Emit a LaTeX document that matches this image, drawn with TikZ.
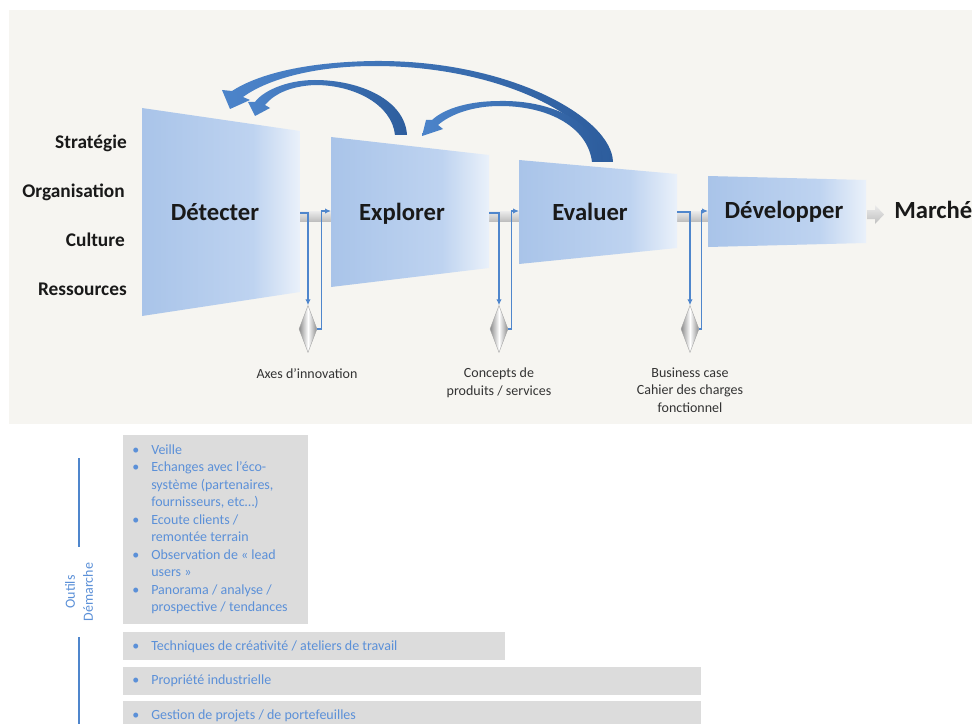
\documentclass[tikz,border=0pt]{standalone}
\usepackage{fontspec}
\setmainfont{Carlito}
\usetikzlibrary{shapes.geometric,arrows.meta}
\definecolor{bgpanel}{HTML}{F6F5F1}
\definecolor{trapA}{HTML}{A9C4E9}
\definecolor{trapB}{HTML}{BED3F0}
\definecolor{trapC}{HTML}{EAF1FA}
\definecolor{arrowA}{HTML}{4C84CA}
\definecolor{arrowB}{HTML}{2D5D9D}
\definecolor{linkblue}{HTML}{4F86CC}
\definecolor{tooltext}{HTML}{5B90D8}
\definecolor{toolbox}{HTML}{DCDCDC}
\definecolor{labelgrey}{HTML}{333333}
\pgfdeclarehorizontalshading{trapshade}{100bp}{color(0bp)=(trapA); color(25bp)=(trapA); color(60bp)=(trapB); color(75bp)=(trapC); color(100bp)=(trapC)}
\tikzset{
  stagelabel/.style={font=\fontsize{18.5}{20}\selectfont\bfseries, text=black!90, anchor=base, inner sep=0},
  sidelabel/.style={font=\fontsize{14.5}{16}\selectfont\bfseries, text=black!90, anchor=base east, inner sep=0},
  outlabel/.style={font=\fontsize{10.5}{12.8}\selectfont, text=labelgrey, align=center, anchor=north, inner sep=0},
  gem/.style={diamond, inner sep=0, minimum width=13.5pt, minimum height=35.25pt, left color=gray!90, right color=gray!90, middle color=white, draw=gray!70, line width=0.3pt},
  link/.style={draw=linkblue, line width=0.9pt, -{Latex[length=4.5pt,width=4pt]}},
  greybar/.style={top color=gray!15, bottom color=gray!50},
  bigarrow/.style={left color=arrowA, right color=arrowB},
  toolfont/.style={font=\fontsize{10.5}{13}\selectfont, text=tooltext, inner sep=0, anchor=base west},
  toolline/.style={draw=linkblue, line width=0.8pt}
}
\begin{document}
\begin{tikzpicture}[x=0.75pt,y=-0.75pt]
\useasboundingbox (0,0) rectangle (972,724);
\fill[white] (0,0) rectangle (972,724);
\fill[bgpanel] (9,10) rectangle (972,424);

% grey bars between stages
\shade[greybar] (300,211) rectangle (331,221);
\shade[greybar] (489,211) rectangle (519,221);
\shade[greybar] (677,211) rectangle (708,221);
\shade[greybar] (867,210) -- (875,210) -- (875,205) -- (884,214.5) -- (875,224) -- (875,219) -- (867,219) -- cycle;

% stage shapes
\shade[shading=trapshade] (142,108) -- (300,131) -- (300,292) -- (142,316) -- cycle;
\shade[shading=trapshade] (331,137) -- (489,155) -- (489,268) -- (331,287) -- cycle;
\shade[shading=trapshade] (519,160) -- (677,174) -- (677,248) -- (519,264) -- cycle;
\shade[shading=trapshade] (708,176) -- (866,180) -- (866,243) -- (708,247) -- cycle;

% stage names
\node[stagelabel] (det) at (215,220) {Détecter};
\node[stagelabel] (exp) at (402,220) {Explorer};
\node[stagelabel] (eva) at (590,220) {Evaluer};
\node[stagelabel] (dev) at (784,219) {Développer};
\node[stagelabel, anchor=base west] (mar) at (894,219) {Marché};

% side labels
\node[sidelabel] (s1) at (127,149) {Stratégie};
\node[sidelabel] (s2) at (125,197) {Organisation};
\node[sidelabel] (s3) at (125,246) {Culture};
\node[sidelabel] (s4) at (127,295) {Ressources};

% feedback arrows
\shade[bigarrow] (613,162) .. controls (612,118) and (510,60) .. (375,61)
  .. controls (300,62) and (255,76) .. (232,91) -- (222,90) -- (230,109) -- (250,100) -- (243,97)
  .. controls (262,83) and (305,66) .. (375,66)
  .. controls (500,66) and (598,118) .. (602,162) -- cycle;
\shade[bigarrow] (407,135) .. controls (405,100) and (360,80) .. (315,80)
  .. controls (285,80) and (262,92) .. (255,102) -- (248,102) -- (255,116) -- (270,108) -- (265,105)
  .. controls (275,93) and (292,86) .. (315,85)
  .. controls (355,85) and (392,105) .. (395,135) -- cycle;
\shade[bigarrow] (603,162) .. controls (600,125) and (555,100) .. (500,101)
  .. controls (470,101) and (445,108) .. (432,120) -- (426,120) -- (422,136) -- (443,129) -- (438,125)
  .. controls (452,113) and (475,106) .. (500,106)
  .. controls (550,106) and (588,128) .. (592,162) -- cycle;

% deliverables
\coordinate (detR) at (300,213);
\coordinate (expL) at (331,211);
\coordinate (expR) at (489,213);
\coordinate (evaL) at (519,211);
\coordinate (evaR) at (677,212);
\coordinate (devL) at (708,211);
\node[gem] (g1) at (308,329) {};
\node[gem] (g2) at (499,329) {};
\node[gem] (g3) at (690,329) {};
\draw[link] (detR) -| (g1.north);
\draw[link] (g1.east) -- ++(4,0) |- (expL);
\draw[link] (expR) -| (g2.north);
\draw[link] (g2.east) -- ++(3,0) |- (evaL);
\draw[link] (evaR) -| (g3.north);
\draw[link] (g3.east) -- ++(2,0) |- (devL);

\node[outlabel] (o1) at (307,368) {Axes d’innovation};
\node[outlabel] (o2) at (499,368) {Concepts de\\produits / services};
\node[outlabel] (o3) at (690,368) {Business case\\Cahier des charges\\fonctionnel};

% tools section
\fill[toolbox] (123,435) rectangle (308,624);
\fill[toolbox] (123,632) rectangle (505,660);
\fill[toolbox] (123,667) rectangle (701,695);
\fill[toolbox] (123,701) rectangle (701,724);

\foreach \t [count=\i] in {Veille,Echanges avec l’éco-,{système (partenaires,},{fournisseurs,  etc…)},Ecoute clients /,remontée terrain,Observation  de « lead,users »,Panorama / analyse /,prospective  / tendances}{
  \node[toolfont] (t\i) at (151,{454+17.5*(\i-1)}) {\t};
}
\foreach \i/\y in {1/454,2/471.5,3/524,4/559,5/594}{
  \node[toolfont] (b\i) at (132,\y) {•};
}
\node[toolfont] (b6) at (132,650) {•};
\node[toolfont] (t11) at (151,650) {Techniques  de créativité / ateliers de travail};
\node[toolfont] (b7) at (132,684) {•};
\node[toolfont] (t12) at (151,684) {Propriété industrielle};
\node[toolfont] (b8) at (132,719) {•};
\node[toolfont] (t13) at (151,719) {Gestion de projets  / de portefeuilles};

\node[rotate=90, align=center, text=tooltext, font=\fontsize{10.5}{13.5}\selectfont, inner sep=0] (outils) at (79,592) {Outils\\Démarche};
\coordinate (lineAtop) at (79,458);
\coordinate (lineAbot) at (79,547);
\coordinate (lineBtop) at (79,637);
\coordinate (lineBbot) at (79,724);
\draw[toolline] (lineAtop) -- (lineAbot);
\draw[toolline] (lineBtop) -- (lineBbot);
\end{tikzpicture}
\end{document}
